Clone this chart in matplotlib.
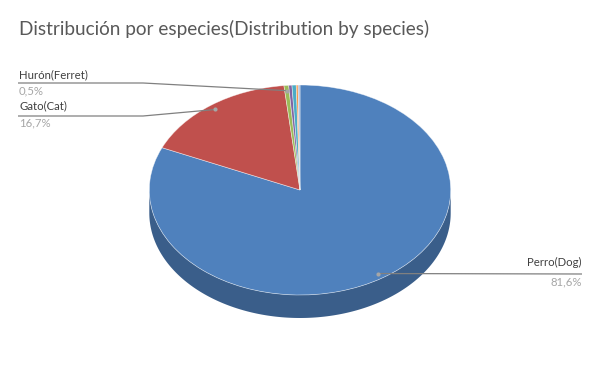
import numpy as np
import matplotlib
matplotlib.use("Agg")
import matplotlib.pyplot as plt
from matplotlib.patches import Polygon
from matplotlib.colors import to_rgb

# ---------------- data ----------------
title = "Distribución por especies(Distribution by species)"
species = ["Perro(Dog)", "Gato(Cat)", "Hurón(Ferret)", "Otro 1", "Otro 2", "Otro 3", "Otro 4"]
shares = [81.6, 16.7, 0.5, 0.35, 0.45, 0.2, 0.2]
labelled = [0, 1, 2]   # slices that carry a data label

# ---------------- style ----------------
colors = ["#4F81BD", "#C0504D", "#9BBB59", "#8064A2", "#4BACC6", "#F79646", "#A9BCDB"]
FONT = ["Lato", "DejaVu Sans"]
W, H = 600, 371
cx, cy, a, b, depth = 300.0, 190.0, 150.7, 105.0, 23.0  # pixel geometry of pie

fig = plt.figure(figsize=(W / 100, H / 100), dpi=100)
fig.patch.set_facecolor("white")

d = depth / b
ax = fig.add_axes([(cx - a) / W, (H - (cy + b + depth)) / H, 2 * a / W, (2 * b + depth) / H])
wedges, _ = ax.pie(shares, colors=colors, startangle=90, counterclock=False, radius=1,
                   wedgeprops=dict(edgecolor=(1, 1, 1, 0.55), linewidth=0.5))
ax.set_aspect("auto")
ax.set_xlim(-1, 1)
ax.set_ylim(-1 - d, 1)
ax.axis("off")

# side wall (front half only), angles clockwise from top
total = float(sum(shares))
bounds = np.concatenate([[0.0], np.cumsum(shares) / total * 360.0])
for i in range(len(shares)):
    lo, hi = max(bounds[i], 90.0), min(bounds[i + 1], 270.0)
    if hi <= lo:
        continue
    phi = np.radians(np.linspace(lo, hi, 200))
    xs, ys = np.sin(phi), np.cos(phi)
    pts = np.concatenate([np.column_stack([xs, ys]), np.column_stack([xs[::-1], ys[::-1] - d])])
    dark = tuple(c * 0.73 for c in to_rgb(colors[i]))
    ax.add_patch(Polygon(pts, closed=True, facecolor=dark, edgecolor="none", zorder=0))

# overlay in pixel coordinates
ov = fig.add_axes([0, 0, 1, 1])
ov.set_xlim(0, W)
ov.set_ylim(H, 0)
ov.axis("off")

def anchor(i, r=0.95):
    m = np.radians((bounds[i] + bounds[i + 1]) / 2)
    disp = ax.transData.transform((r * np.sin(m), r * np.cos(m)))
    return ov.transData.inverted().transform(disp)

def pct(v):
    return f"{v:.1f}".replace(".", ",") + "%"

ov.text(19, 35, title, fontsize=13.65, color="#595959", family=FONT, va="baseline", ha="left")

LINE = "#808080"
# layout: (text x, name baseline, line y, pct baseline, ha, line x end)
layout = {
    2: (19, 78, 83, 94.5, "left", 143),
    1: (19, 109, 116, 126.7, "left", 143),
    0: (582, 266, 274, 285, "right", None),
}
for i in labelled:
    tx, yn, yl, yp, ha, xe = layout[i]
    ax_, ay_ = anchor(i)
    if ha == "left":
        ov.plot([18, xe, ax_], [yl, yl, ay_], color=LINE, lw=0.9, solid_capstyle="butt")
    else:
        ov.plot([ax_, tx], [ay_, yl], color=LINE, lw=0.9, solid_capstyle="butt")
    ov.plot([ax_], [ay_], "o", ms=3, color="#A6A6A6", mec="none")
    ov.text(tx, yn, species[i], fontsize=8.2, color="#404040", family=FONT, va="baseline", ha=ha)
    ov.text(tx, yp, pct(shares[i]), fontsize=8.2, color="#A6A6A6", family=FONT, va="baseline", ha=ha)

fig.savefig("out.png", dpi=100, facecolor="white")
